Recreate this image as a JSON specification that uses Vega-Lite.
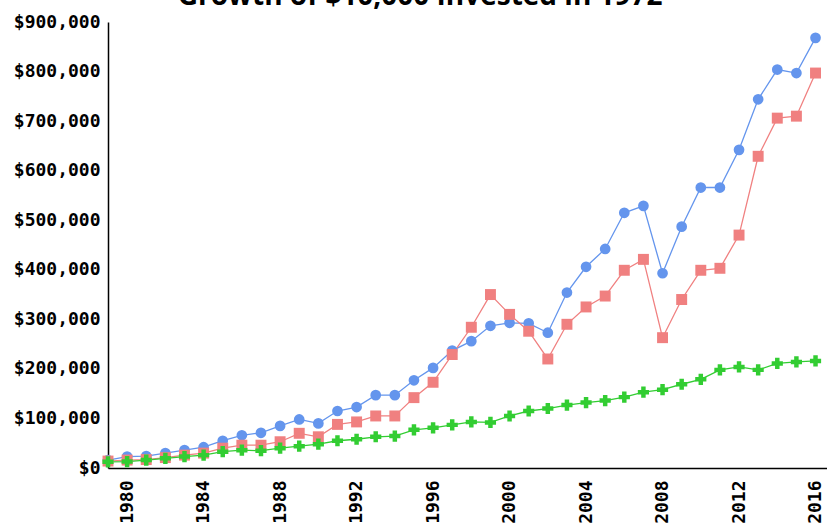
{
  "$schema": "https://vega.github.io/schema/vega-lite/v6.json",
  "width": 719,
  "height": 446,
  "autosize": {"type": "none"},
  "padding": {"left": 108, "top": 22, "right": 0, "bottom": 62},
  "background": "white",
  "title": {"text": "Growth of $10,000 Invested in 1972", "font": "Open Sans", "fontSize": 28, "fontWeight": "bold", "color": "black", "anchor": "middle", "frame": "bounds", "dy": 2},
  "config": {"view": {"stroke": null}},
  "data": {"values": [
    {"year": 1979, "series": "A", "value": 16000},
    {"year": 1980, "series": "A", "value": 23000},
    {"year": 1981, "series": "A", "value": 24000},
    {"year": 1982, "series": "A", "value": 30000},
    {"year": 1983, "series": "A", "value": 36000},
    {"year": 1984, "series": "A", "value": 42000},
    {"year": 1985, "series": "A", "value": 55000},
    {"year": 1986, "series": "A", "value": 66000},
    {"year": 1987, "series": "A", "value": 71000},
    {"year": 1988, "series": "A", "value": 85000},
    {"year": 1989, "series": "A", "value": 98000},
    {"year": 1990, "series": "A", "value": 90000},
    {"year": 1991, "series": "A", "value": 115000},
    {"year": 1992, "series": "A", "value": 123000},
    {"year": 1993, "series": "A", "value": 147000},
    {"year": 1994, "series": "A", "value": 147000},
    {"year": 1995, "series": "A", "value": 177000},
    {"year": 1996, "series": "A", "value": 202000},
    {"year": 1997, "series": "A", "value": 237000},
    {"year": 1998, "series": "A", "value": 256000},
    {"year": 1999, "series": "A", "value": 287000},
    {"year": 2000, "series": "A", "value": 293000},
    {"year": 2001, "series": "A", "value": 292000},
    {"year": 2002, "series": "A", "value": 273000},
    {"year": 2003, "series": "A", "value": 354000},
    {"year": 2004, "series": "A", "value": 406000},
    {"year": 2005, "series": "A", "value": 442000},
    {"year": 2006, "series": "A", "value": 515000},
    {"year": 2007, "series": "A", "value": 529000},
    {"year": 2008, "series": "A", "value": 393000},
    {"year": 2009, "series": "A", "value": 487000},
    {"year": 2010, "series": "A", "value": 566000},
    {"year": 2011, "series": "A", "value": 566000},
    {"year": 2012, "series": "A", "value": 642000},
    {"year": 2013, "series": "A", "value": 744000},
    {"year": 2014, "series": "A", "value": 804000},
    {"year": 2015, "series": "A", "value": 797000},
    {"year": 2016, "series": "A", "value": 868000},
    {"year": 1979, "series": "B", "value": 14000},
    {"year": 1980, "series": "B", "value": 16000},
    {"year": 1981, "series": "B", "value": 17000},
    {"year": 1982, "series": "B", "value": 21000},
    {"year": 1983, "series": "B", "value": 26000},
    {"year": 1984, "series": "B", "value": 30000},
    {"year": 1985, "series": "B", "value": 40000},
    {"year": 1986, "series": "B", "value": 46000},
    {"year": 1987, "series": "B", "value": 46000},
    {"year": 1988, "series": "B", "value": 53000},
    {"year": 1989, "series": "B", "value": 70000},
    {"year": 1990, "series": "B", "value": 63000},
    {"year": 1991, "series": "B", "value": 88000},
    {"year": 1992, "series": "B", "value": 93000},
    {"year": 1993, "series": "B", "value": 105000},
    {"year": 1994, "series": "B", "value": 105000},
    {"year": 1995, "series": "B", "value": 142000},
    {"year": 1996, "series": "B", "value": 173000},
    {"year": 1997, "series": "B", "value": 229000},
    {"year": 1998, "series": "B", "value": 284000},
    {"year": 1999, "series": "B", "value": 350000},
    {"year": 2000, "series": "B", "value": 310000},
    {"year": 2001, "series": "B", "value": 276000},
    {"year": 2002, "series": "B", "value": 220000},
    {"year": 2003, "series": "B", "value": 290000},
    {"year": 2004, "series": "B", "value": 325000},
    {"year": 2005, "series": "B", "value": 347000},
    {"year": 2006, "series": "B", "value": 399000},
    {"year": 2007, "series": "B", "value": 421000},
    {"year": 2008, "series": "B", "value": 263000},
    {"year": 2009, "series": "B", "value": 340000},
    {"year": 2010, "series": "B", "value": 399000},
    {"year": 2011, "series": "B", "value": 403000},
    {"year": 2012, "series": "B", "value": 470000},
    {"year": 2013, "series": "B", "value": 629000},
    {"year": 2014, "series": "B", "value": 706000},
    {"year": 2015, "series": "B", "value": 710000},
    {"year": 2016, "series": "B", "value": 797000},
    {"year": 1979, "series": "C", "value": 12500},
    {"year": 1980, "series": "C", "value": 13000},
    {"year": 1981, "series": "C", "value": 16000},
    {"year": 1982, "series": "C", "value": 19500},
    {"year": 1983, "series": "C", "value": 23000},
    {"year": 1984, "series": "C", "value": 26000},
    {"year": 1985, "series": "C", "value": 33000},
    {"year": 1986, "series": "C", "value": 36000},
    {"year": 1987, "series": "C", "value": 35000},
    {"year": 1988, "series": "C", "value": 40000},
    {"year": 1989, "series": "C", "value": 44000},
    {"year": 1990, "series": "C", "value": 48000},
    {"year": 1991, "series": "C", "value": 55000},
    {"year": 1992, "series": "C", "value": 58000},
    {"year": 1993, "series": "C", "value": 63000},
    {"year": 1994, "series": "C", "value": 64500},
    {"year": 1995, "series": "C", "value": 77000},
    {"year": 1996, "series": "C", "value": 81000},
    {"year": 1997, "series": "C", "value": 87000},
    {"year": 1998, "series": "C", "value": 93000},
    {"year": 1999, "series": "C", "value": 92000},
    {"year": 2000, "series": "C", "value": 105000},
    {"year": 2001, "series": "C", "value": 115000},
    {"year": 2002, "series": "C", "value": 120000},
    {"year": 2003, "series": "C", "value": 127000},
    {"year": 2004, "series": "C", "value": 132000},
    {"year": 2005, "series": "C", "value": 136000},
    {"year": 2006, "series": "C", "value": 143000},
    {"year": 2007, "series": "C", "value": 153000},
    {"year": 2008, "series": "C", "value": 158000},
    {"year": 2009, "series": "C", "value": 169000},
    {"year": 2010, "series": "C", "value": 179000},
    {"year": 2011, "series": "C", "value": 198000},
    {"year": 2012, "series": "C", "value": 204000},
    {"year": 2013, "series": "C", "value": 198000},
    {"year": 2014, "series": "C", "value": 211000},
    {"year": 2015, "series": "C", "value": 214000},
    {"year": 2016, "series": "C", "value": 216000}
  ]},
  "encoding": {
    "x": {"field": "year", "type": "quantitative",
      "scale": {"domain": [1979, 2016.6], "nice": false, "zero": false},
      "axis": {"title": null, "values": [1980, 1984, 1988, 1992, 1996, 2000, 2004, 2008, 2012, 2016], "format": "d", "labelAngle": -90, "labelFont": "DejaVu Sans Mono", "labelFontWeight": "bold", "labelFontSize": 18, "labelColor": "black", "labelPadding": 12, "ticks": false, "grid": false, "domainColor": "black", "domainWidth": 1.5, "labelFlush": false, "labelOverlap": false}},
    "y": {"field": "value", "type": "quantitative",
      "scale": {"domain": [0, 900000], "nice": false},
      "axis": {"title": null, "values": [0, 100000, 200000, 300000, 400000, 500000, 600000, 700000, 800000, 900000], "format": "$,d", "labelFont": "DejaVu Sans Mono", "labelFontWeight": "bold", "labelFontSize": 18, "labelColor": "black", "labelPadding": 8, "ticks": false, "grid": false, "domainColor": "black", "domainWidth": 1.5, "labelFlush": false, "labelOverlap": false}},
    "color": {"field": "series", "type": "nominal", "legend": null,
      "scale": {"domain": ["A", "B", "C"], "range": ["#6495ED", "#F08080", "#32CD32"]}}
  },
  "layer": [
    {"mark": {"type": "line", "strokeWidth": 1.3, "clip": false}},
    {"mark": {"type": "point", "filled": true, "opacity": 1, "clip": false},
     "encoding": {
       "shape": {"field": "series", "type": "nominal", "legend": null,
         "scale": {"domain": ["A", "B", "C"], "range": ["circle", "square", "cross"]}},
       "size": {"field": "series", "type": "nominal", "legend": null,
         "scale": {"domain": ["A", "B", "C"], "range": [115, 125, 210]}}
     }}
  ]
}
